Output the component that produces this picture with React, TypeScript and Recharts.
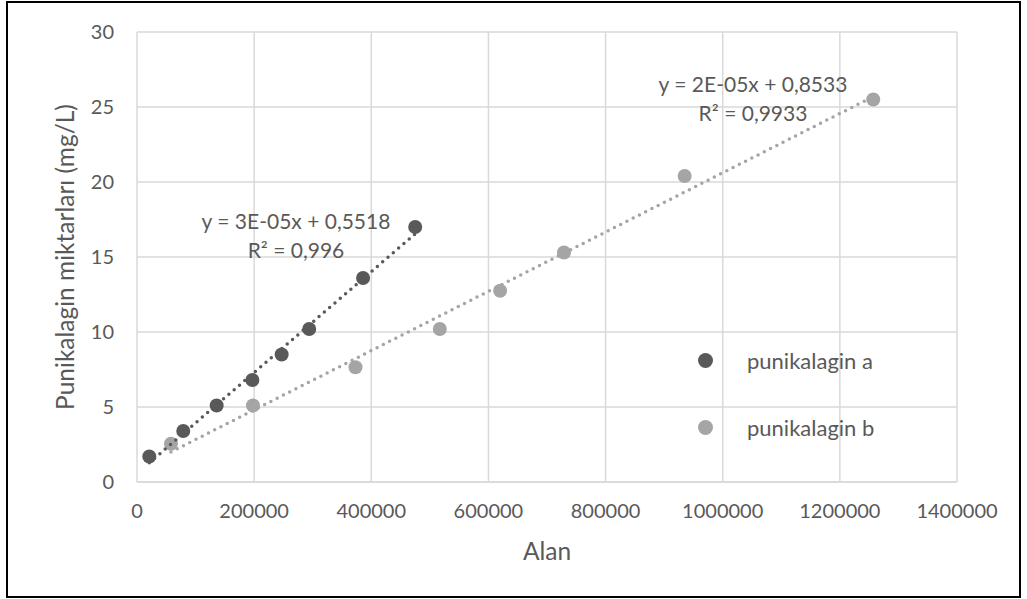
import {
  ScatterChart,
  Scatter,
  XAxis,
  YAxis,
  CartesianGrid,
} from "recharts";

const aAlan = [21000, 79000, 136000, 197000, 247000, 294000, 386000, 475000];
const aAmount = [1.7, 3.4, 5.1, 6.8, 8.5, 10.2, 13.6, 17.0];
const bAlan = [58000, 198000, 373000, 517000, 620000, 729000, 935000, 1257000];
const bAmount = [2.55, 5.1, 7.65, 10.2, 12.75, 15.3, 20.4, 25.5];

const xTicks = [0, 200000, 400000, 600000, 800000, 1000000, 1200000, 1400000];
const yTicks = [0, 5, 10, 15, 20, 25, 30];

const DARK = "#595959";
const LIGHT = "#a5a5a5";
const TEXT = "#595959";
const FONT = "Lato, 'Noto Sans', sans-serif";

const toPoints = (xs: number[], ys: number[]) =>
  xs.map((x, i) => ({ x, y: ys[i] }));

// least squares fit, drawn across the series' x range like an Excel trendline
function trend(xs: number[], ys: number[]) {
  const n = xs.length;
  const mx = xs.reduce((s, v) => s + v, 0) / n;
  const my = ys.reduce((s, v) => s + v, 0) / n;
  let sxy = 0;
  let sxx = 0;
  xs.forEach((x, i) => {
    sxy += (x - mx) * (ys[i] - my);
    sxx += (x - mx) * (x - mx);
  });
  const slope = sxy / sxx;
  const icpt = my - slope * mx;
  const lo = Math.min(...xs);
  const hi = Math.max(...xs);
  return [
    { x: lo, y: icpt + slope * lo },
    { x: hi, y: icpt + slope * hi },
  ];
}

const seriesA = toPoints(aAlan, aAmount);
const seriesB = toPoints(bAlan, bAmount);
const trendA = trend(aAlan, aAmount);
const trendB = trend(bAlan, bAmount);

const dot = (color: string) => (p: any) =>
  <circle cx={p.cx} cy={p.cy} r={7} fill={color} />;

const legendItems = [
  { name: "punikalagin a", color: DARK },
  { name: "punikalagin b", color: LIGHT },
];

const noShape = () => <g />;

const trendStyle = (color: string) => ({
  stroke: color,
  strokeWidth: 3.5,
  strokeDasharray: "0 7",
  strokeLinecap: "round" as const,
});

const noteStyle = {
  position: "absolute" as const,
  width: 220,
  textAlign: "center" as const,
  fontFamily: FONT,
  fontSize: 21,
  lineHeight: "29px",
  color: TEXT,
};

export default function App() {
  return (
    <div
      style={{
        position: "absolute",
        left: 0,
        top: 0,
        width: 1027,
        height: 599,
        background: "#fff",
      }}
    >
      <div
        style={{
          position: "absolute",
          left: 6,
          top: 1,
          width: 1015,
          height: 597,
          border: "2px solid #000",
          boxSizing: "border-box",
        }}
      />
      <ScatterChart
        width={1027}
        height={599}
        margin={{ top: 32, right: 70, bottom: 77, left: 77 }}
        style={{ position: "absolute", left: 0, top: 0 }}
      >
        <CartesianGrid stroke="#d9d9d9" strokeWidth={1.5} />
        <XAxis
          type="number"
          dataKey="x"
          domain={[0, 1400000]}
          ticks={xTicks}
          height={40}
          axisLine={{ stroke: "#d9d9d9", strokeWidth: 1.5 }}
          tickLine={false}
          tickSize={0}
          tickMargin={22}
          tick={{ fill: TEXT, fontSize: 20, fontFamily: FONT }}
          label={{
            value: "Alan",
            position: "center",
            dy: 49,
            fill: TEXT,
            fontSize: 24.5,
            fontFamily: FONT,
          }}
        />
        <YAxis
          type="number"
          dataKey="y"
          domain={[0, 30]}
          ticks={yTicks}
          width={60}
          axisLine={false}
          tickLine={false}
          tickSize={0}
          tickMargin={23}
          tick={{ fill: TEXT, fontSize: 20, fontFamily: FONT }}
          label={{
            value: "Punikalagin miktarları (mg/L)",
            angle: -90,
            position: "center",
            dx: -42,
            fill: TEXT,
            fontSize: 24.5,
            fontFamily: FONT,
          }}
        />
        <Scatter
          name="punikalagin a"
          data={seriesA}
          shape={dot(DARK)}
          isAnimationActive={false}
        />
        <Scatter
          name="punikalagin b"
          data={seriesB}
          shape={dot(LIGHT)}
          isAnimationActive={false}
        />
        <Scatter
          data={trendB}
          shape={noShape}
          line={trendStyle(LIGHT)}
          legendType="none"
          isAnimationActive={false}
        />
        <Scatter
          data={trendA}
          shape={noShape}
          line={trendStyle(DARK)}
          legendType="none"
          isAnimationActive={false}
        />
      </ScatterChart>
      <div
        style={{
          position: "absolute",
          left: 698,
          top: 343,
          fontFamily: FONT,
          fontSize: 22,
          color: TEXT,
        }}
      >
        {legendItems.map((it) => (
          <div
            key={it.name}
            style={{ display: "flex", alignItems: "center", height: 34, marginBottom: 33 }}
          >
            <span
              style={{
                width: 15,
                height: 15,
                borderRadius: "50%",
                background: it.color,
                display: "inline-block",
                marginRight: 34,
              }}
            />
            <span>{it.name}</span>
          </div>
        ))}
      </div>
      <div style={{ ...noteStyle, left: 186, top: 206 }}>
        <div>y = 3E-05x + 0,5518</div>
        <div>R² = 0,996</div>
      </div>
      <div style={{ ...noteStyle, left: 643, top: 69 }}>
        <div>y = 2E-05x + 0,8533</div>
        <div>R² = 0,9933</div>
      </div>
    </div>
  );
}
